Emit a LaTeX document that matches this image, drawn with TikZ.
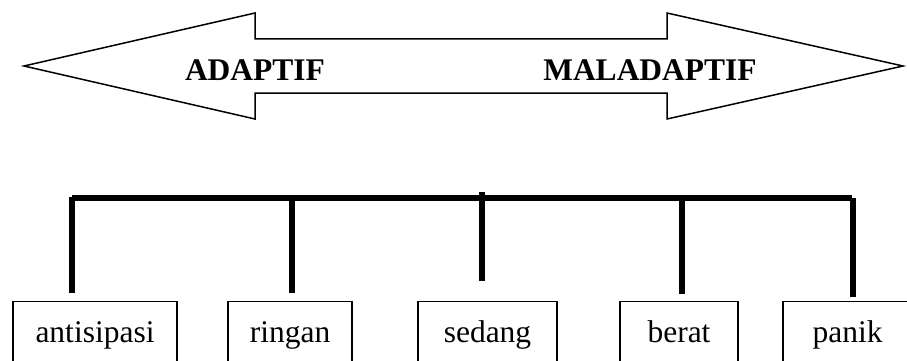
\documentclass[tikz,border=0pt]{standalone}
\usepackage{fontspec}
\setmainfont{Liberation Serif}
\begin{document}
\begin{tikzpicture}[x=1pt,y=-1pt,
  box/.style={draw, line width=1.3pt, anchor=north, minimum height=72pt, text height=18pt, text depth=8pt, inner sep=0pt, font=\fontsize{31.5pt}{36pt}\selectfont},
  lbl/.style={anchor=base, inner sep=0pt, font=\fontsize{31.5pt}{36pt}\selectfont\bfseries},
  bar/.style={line width=6.5pt},
  arrowshape/.style={draw, line width=1.5pt, line join=miter}]
\useasboundingbox (0,0) rectangle (907,361);
\clip (0,0) rectangle (907,361);
% double arrow
\draw[arrowshape] (24,66) -- (255,13) -- (255,39) -- (667,39) -- (667,13) -- (903,66)
  -- (667,119) -- (667,93) -- (255,93) -- (255,119) -- cycle;
\node[lbl] (adaptif) at (255,80) {ADAPTIF};
\node[lbl] (maladaptif) at (650,80) {MALADAPTIF};
% boxes
\node[box, minimum width=164pt] (antisipasi) at (95,301) {antisipasi};
\node[box, minimum width=124pt] (ringan) at (290,301) {ringan};
\node[box, minimum width=139pt] (sedang) at (487.5,301) {sedang};
\node[box, minimum width=118pt] (berat) at (679,301) {berat};
\node[box, minimum width=129pt] (panik) at (847.5,301) {panik};
% connector tree
\coordinate (barL) at (72,198);
\coordinate (barR) at (852,198);
\coordinate (tA) at (72,197);   \coordinate (bA) at (72,293);
\coordinate (tR) at (292,198);  \coordinate (bR) at (292,293);
\coordinate (tS) at (482,192);  \coordinate (bS) at (482,281);
\coordinate (tB) at (682,198);  \coordinate (bB) at (682,294);
\coordinate (tP) at (853,198);  \coordinate (bP) at (853,297);
\draw[bar] (barL) -- (barR);
\draw[bar] (tA) -- (bA);
\draw[bar] (tR) -- (bR);
\draw[bar] (tS) -- (bS);
\draw[bar] (tB) -- (bB);
\draw[bar] (tP) -- (bP);
\end{tikzpicture}
\end{document}
